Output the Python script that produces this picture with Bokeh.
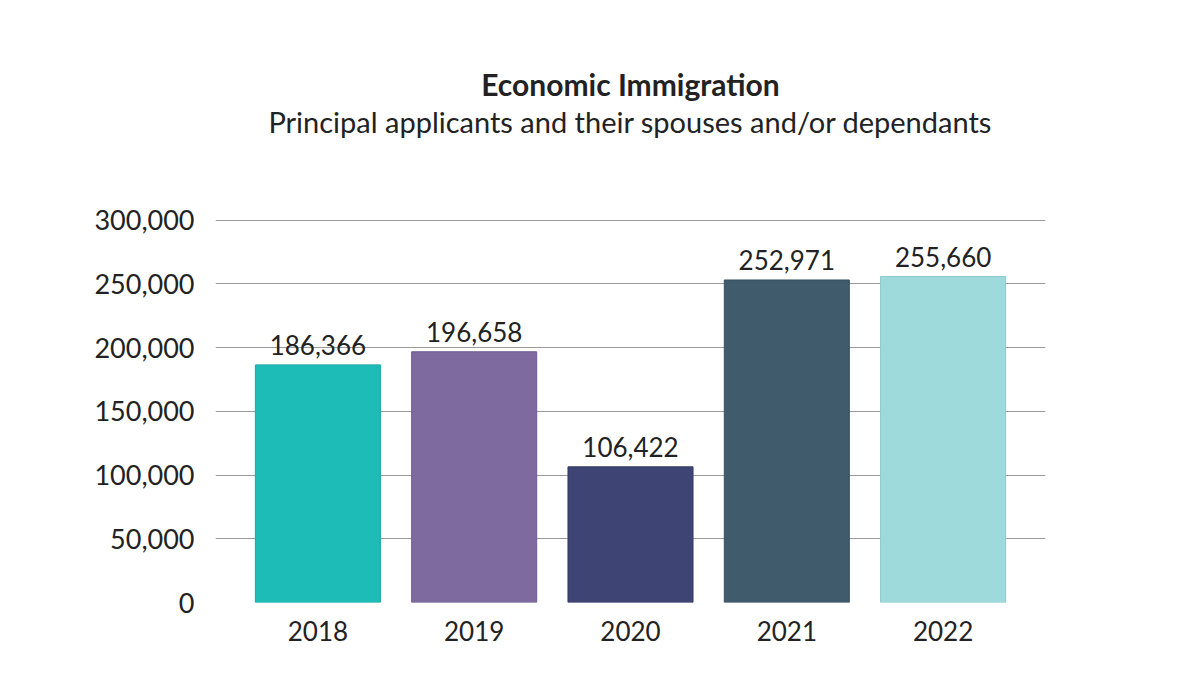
from bokeh.plotting import figure
from bokeh.models import ColumnDataSource, FactorRange, Title, NumeralTickFormatter, FixedTicker, LabelSet
from bokeh.core.properties import value
from bokeh.embed import file_html
from bokeh.resources import INLINE

years = ["2018", "2019", "2020", "2021", "2022"]
values = [186366, 196658, 106422, 252971, 255660]
labels = ["186,366", "196,658", "106,422", "252,971", "255,660"]
colors = ["#1dbcb6", "#7e6a9e", "#3e4574", "#405b6b", "#9ed9dc"]
borders = ["#17a9a3", "#6e5b8e", "#333a66", "#36505f", "#8ccbce"]
y_ticks = [0, 50000, 100000, 150000, 200000, 250000, 300000]

FONT = "Lato"
TXT = "#222222"

src = ColumnDataSource(dict(year=years, value=values, label=labels, color=colors, border=borders))

p = figure(
    x_range=FactorRange(factors=years, range_padding=0.155, range_padding_units="absolute"),
    y_range=(0, 300400),
    width=1184, height=676,
    output_backend="svg", toolbar_location=None,
    min_border_left=215, min_border_right=139, min_border_bottom=74, min_border_top=219,
)
p.title.text = "Economic Immigration"
p.title.text_font = FONT
p.title.text_font_size = "30px"
p.title.text_font_style = "bold"
p.title.text_color = TXT
p.title.align = "center"
p.title.standoff = 0

spacer = Title(text=" ", text_font=FONT, text_font_size="66px", align="center", standoff=0)
p.add_layout(spacer, "above")
sub = Title(text="Principal applicants and their spouses and/or dependants",
            text_font=FONT, text_font_size="29px", text_font_style="normal",
            text_color=TXT, align="center", standoff=0)
p.add_layout(sub, "above")

p.vbar(x="year", top="value", width=0.8, source=src, fill_color="color", line_color="border", line_width=1)

lab = LabelSet(x="year", y="value", text="label", source=src, text_align="center",
               text_baseline="bottom", y_offset=10, text_font=value(FONT),
               text_font_size="26px", text_color=TXT)
p.add_layout(lab)

p.outline_line_color = None
p.background_fill_color = "white"
p.border_fill_color = "white"

p.yaxis.ticker = FixedTicker(ticks=y_ticks)
p.yaxis.formatter = NumeralTickFormatter(format="0,0")
p.yaxis.axis_line_color = None
p.yaxis.major_tick_line_color = None
p.yaxis.minor_tick_line_color = None
p.yaxis.major_label_text_font = FONT
p.yaxis.major_label_text_font_size = "27px"
p.yaxis.major_label_text_color = TXT
p.yaxis.major_label_standoff = 15

p.xaxis.axis_line_color = None
p.xaxis.major_tick_line_color = None
p.xaxis.minor_tick_line_color = None
p.xaxis.major_label_text_font = FONT
p.xaxis.major_label_text_font_size = "26px"
p.xaxis.major_label_text_color = TXT
p.xaxis.major_label_standoff = 12

p.xgrid.grid_line_color = None
p.ygrid.grid_line_color = "#9a9a9a"
p.ygrid.grid_line_width = 1
p.ygrid.ticker = FixedTicker(ticks=y_ticks)

open("out.html", "w").write(file_html(p, INLINE))
